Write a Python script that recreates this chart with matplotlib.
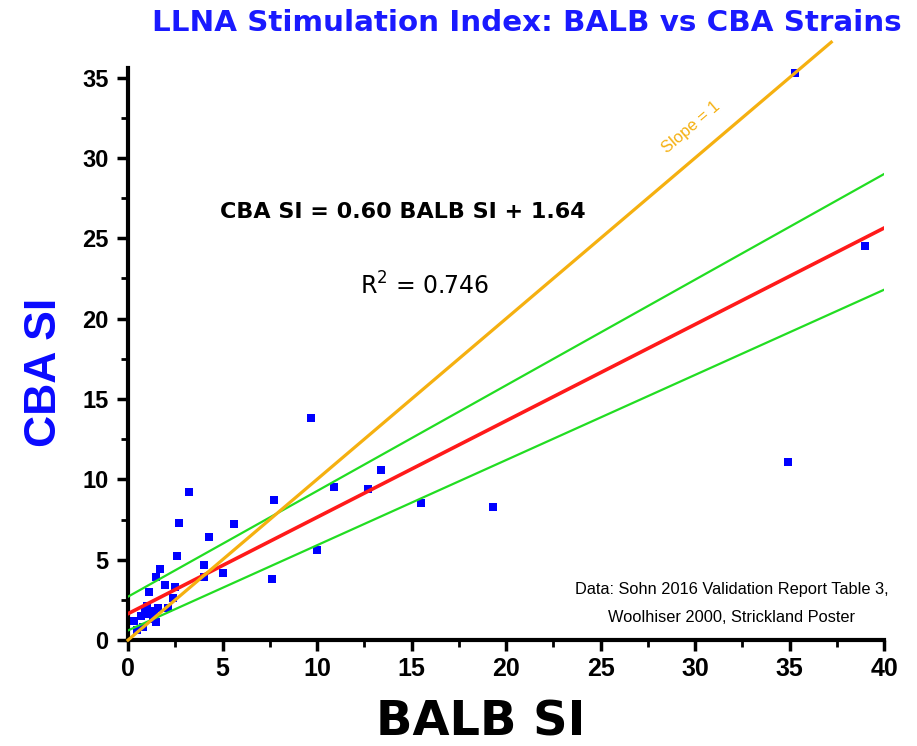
import matplotlib
matplotlib.use("Agg")
import matplotlib.pyplot as plt
from matplotlib.ticker import MultipleLocator

plt.rcParams['font.family'] = ['Liberation Sans', 'DejaVu Sans']

# BALB vs CBA stimulation index
balb_si = [0.3, 0.5, 0.8, 0.7, 0.9, 1.1, 1.3, 1.4, 1.5, 1.6, 1.0, 2.1, 2.4, 2.5,
           1.1, 1.95, 1.5, 1.7, 2.6, 2.7, 3.2, 4.0, 4.0, 5.0, 4.3, 5.6, 7.7,
           7.6, 10.0, 9.7, 10.9, 12.7, 13.4, 15.5, 19.3, 34.9, 39.0, 35.3]
cba_si = [1.2, 0.6, 0.8, 1.5, 1.9, 1.6, 1.3, 1.8, 1.1, 2.0, 2.1, 2.0, 2.6, 3.3,
          3.0, 3.45, 3.95, 4.45, 5.25, 7.3, 9.2, 4.7, 3.95, 4.2, 6.4, 7.25, 8.7,
          3.8, 5.6, 13.8, 9.5, 9.4, 10.6, 8.5, 8.3, 11.1, 24.5, 35.3]

# regression and band end points at BALB SI = 0 and 40
line_x = [0, 40]
fit_slope = 0.60
fit_intercept = 1.64
upper_band = [2.7, 29.0]
lower_band = [0.6, 21.8]
identity_x = [0, 37.2]

fig = plt.figure(figsize=(9.17, 7.46), dpi=100)
ax = fig.add_axes([0.1396, 0.142, 0.8246, 0.767])

ax.scatter(balb_si, cba_si, marker="s", s=36, color="#0000ff", linewidths=0, zorder=2)

fit_y = [fit_slope * x + fit_intercept for x in line_x]
ax.plot(line_x, upper_band, color="#22dd22", lw=1.6, zorder=3)
ax.plot(line_x, lower_band, color="#22dd22", lw=1.6, zorder=3)
ax.plot(line_x, fit_y, color="#ff1a1a", lw=2.6, zorder=4)
ax.plot(identity_x, identity_x, color="#f5b010", lw=2.3, zorder=5, clip_on=False)

ax.text(29.8, 31.9, "Slope = 1", color="#f5b010", fontsize=12, rotation=40.4,
        ha="center", va="center")
ax.text(14.55, 26.65, "CBA SI = 0.60 BALB SI + 1.64", fontsize=16, fontweight="bold",
        family="DejaVu Sans", ha="center", va="center")
ax.text(15.7, 22.0, r"R$^2$ = 0.746", fontsize=17, family="DejaVu Sans",
        ha="center", va="center")
ax.text(31.95, 2.3, "Data: Sohn 2016 Validation Report Table 3,\nWoolhiser 2000, Strickland Poster",
        fontsize=11.8, ha="center", va="center", linespacing=2.1)

ax.set_xlim(0, 40)
ax.set_ylim(0, 35.6)
ax.xaxis.set_major_locator(MultipleLocator(5))
ax.xaxis.set_minor_locator(MultipleLocator(2.5))
ax.yaxis.set_major_locator(MultipleLocator(5))
ax.yaxis.set_minor_locator(MultipleLocator(2.5))

for side in ["top", "right"]:
    ax.spines[side].set_visible(False)
for side in ["left", "bottom"]:
    ax.spines[side].set_linewidth(3)

ax.tick_params(which="major", direction="out", length=8, width=2.5, labelsize=17, pad=6)
ax.tick_params(which="minor", direction="out", length=5, width=2)
ax.tick_params(axis="x", which="major", labelsize=18, pad=4)
for lab in ax.get_xticklabels() + ax.get_yticklabels():
    lab.set_fontweight("bold")

ax.set_xlabel("BALB SI", fontsize=34.5, fontweight="bold", family="DejaVu Sans",
              va="baseline")
ax.xaxis.set_label_coords((481 - 128) / 756, -0.166)
ax.set_ylabel("CBA SI", fontsize=32, fontweight="bold", color="#0a0aff", va="center")
ax.yaxis.set_label_coords(-0.11, 0.467)

fig.text(0.574, 0.969, "LLNA Stimulation Index: BALB vs CBA Strains", fontsize=21.2,
         fontweight="bold", family="DejaVu Sans", color="#1a1aff", ha="center", va="center")

fig.savefig("out.png", dpi=100)
